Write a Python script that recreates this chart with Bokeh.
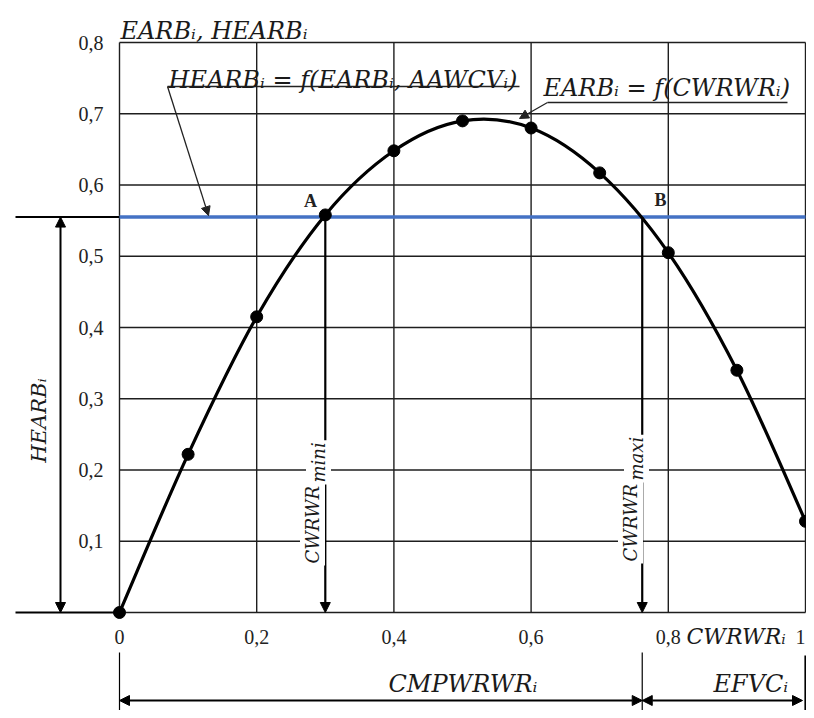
import math
from bokeh.plotting import figure
from bokeh.models import Arrow, NormalHead, Label, Range1d
from bokeh.core.properties import value
from bokeh.embed import file_html
from bokeh.resources import INLINE

# ---------------- data ----------------
cwrwr = [0.0, 0.1, 0.2, 0.3, 0.4, 0.5, 0.6, 0.7, 0.8, 0.9, 1.0]
earb = [0.0, 0.222, 0.415, 0.558, 0.648, 0.690, 0.680, 0.617, 0.505, 0.340, 0.128]
hearb_level = 0.555
cwrwr_min = 0.30
cwrwr_max = 0.762
cwrwr_end = 1.0
x_ticks = [0.0, 0.2, 0.4, 0.6, 0.8, 1.0]
x_tick_labels = ["0", "0,2", "0,4", "0,6", "0,8", "1"]
y_ticks = [0.1, 0.2, 0.3, 0.4, 0.5, 0.6, 0.7, 0.8]
y_tick_labels = ["0,1", "0,2", "0,3", "0,4", "0,5", "0,6", "0,7", "0,8"]
y_max = 0.8

# ---------------- layout helpers (screen placement of annotations) ----------------
W, H = 806, 710
X0PX, SX = 119, 686.0      # x = 0 at 119 px, 686 px per unit
Y0PX, SY = 612, 712.5      # y = 0 at 612 px, 712.5 px per unit


def X(px):
    return (px - X0PX) / SX


def Y(py):
    return (Y0PX - py) / SY


SERIF = "Liberation Serif"
MATH = "DejaVu Serif"
INK = "#1a1a1a"

p = figure(width=W, height=H,
           x_range=Range1d(X(0), X(W)), y_range=Range1d(Y(H), Y(0)),
           output_backend="svg", toolbar_location=None,
           x_axis_location=None, y_axis_location=None, min_border=0)
for g in p.grid:
    g.visible = False
p.outline_line_color = None
p.background_fill_color = "white"
p.border_fill_color = "white"

# ---------------- grid ----------------
GRID = "#1e1e1e"
p.segment(x0=x_ticks, y0=[0] * len(x_ticks), x1=x_ticks, y1=[y_max] * len(x_ticks),
          line_color=GRID, line_width=1.4)
h_levels = [0.0] + y_ticks
p.segment(x0=[0] * len(h_levels), y0=h_levels, x1=[cwrwr_end] * len(h_levels), y1=h_levels,
          line_color=GRID, line_width=1.4)

# tick labels
p.text(x=x_ticks[:-1], y=[0] * (len(x_ticks) - 1), text=x_tick_labels[:-1],
       text_font=value(SERIF), text_font_size="20px", text_align="center",
       text_baseline="middle", y_offset=24, text_color="#222")
p.text(x=x_ticks[-1:], y=[0], text=x_tick_labels[-1:],
       text_font=value(SERIF), text_font_size="20px", text_align="right",
       text_baseline="middle", y_offset=24, x_offset=0, text_color="#222")
p.text(x=[0] * len(y_ticks), y=y_ticks, text=y_tick_labels,
       text_font=value(SERIF), text_font_size="20px", text_align="right",
       text_baseline="middle", x_offset=-16, text_color="#222")

# ---------------- left helper lines ----------------
p.segment(x0=[X(15), X(15)], y0=[hearb_level, 0], x1=[0, 0], y1=[hearb_level, 0],
          line_color="black", line_width=2)

# ---------------- blue HEARB line ----------------
p.line(x=[0, cwrwr_end], y=[hearb_level, hearb_level], line_color="#4472C4", line_width=3.5)

# ---------------- smooth EARB curve (Catmull-Rom -> Bezier) ----------------
n = len(cwrwr)
bx0, by0, bx1, by1, cx0, cy0, cx1, cy1 = [], [], [], [], [], [], [], []
for i in range(n - 1):
    i0 = i - 1 if i > 0 else i
    i3 = i + 2 if i + 2 < n else i + 1
    bx0.append(cwrwr[i]); by0.append(earb[i])
    bx1.append(cwrwr[i + 1]); by1.append(earb[i + 1])
    cx0.append(cwrwr[i] + (cwrwr[i + 1] - cwrwr[i0]) / 6)
    cy0.append(earb[i] + (earb[i + 1] - earb[i0]) / 6)
    cx1.append(cwrwr[i + 1] - (cwrwr[i3] - cwrwr[i]) / 6)
    cy1.append(earb[i + 1] - (earb[i3] - earb[i]) / 6)
p.bezier(x0=bx0, y0=by0, x1=bx1, y1=by1, cx0=cx0, cy0=cy0, cx1=cx1, cy1=cy1,
         line_color="black", line_width=3.2)
p.scatter(x=cwrwr, y=earb, size=12, color="black")


# ---------------- arrows ----------------
def head(size=10, color="black"):
    return NormalHead(size=size, fill_color=color, line_color=color)


for xv in (cwrwr_min, cwrwr_max):
    p.add_layout(Arrow(x_start=xv, y_start=hearb_level, x_end=xv, y_end=0,
                       line_color="black", line_width=2.2, end=head()))

p.add_layout(Arrow(x_start=X(60), y_start=hearb_level, x_end=X(60), y_end=0,
                   line_color="black", line_width=2, start=head(), end=head()))

# bottom dimension lines
p.segment(x0=[0, cwrwr_max], y0=[Y(652)] * 2, x1=[0, cwrwr_max], y1=[Y(H + 5)] * 2,
          line_color="black", line_width=1.2)
p.segment(x0=[cwrwr_end], y0=[Y(655)], x1=[cwrwr_end], y1=[Y(H + 5)],
          line_color="black", line_width=2.2)
p.add_layout(Arrow(x_start=0, y_start=Y(700), x_end=cwrwr_max, y_end=Y(700),
                   line_color="black", line_width=2, start=head(), end=head()))
p.add_layout(Arrow(x_start=cwrwr_max, y_start=Y(700), x_end=X(802), y_end=Y(700),
                   line_color="black", line_width=2, start=head(), end=head()))

# formula leaders and underlines
p.segment(x0=[X(167), X(547)], y0=[Y(86), Y(102)], x1=[X(519), X(787)], y1=[Y(86), Y(102)],
          line_color="#222", line_width=1.3)
p.add_layout(Arrow(x_start=X(167), y_start=Y(86), x_end=X(208), y_end=hearb_level + 0.002,
                   line_color="#222", line_width=1.3, end=head(9, "#222")))
p.add_layout(Arrow(x_start=X(547), y_start=Y(102), x_end=X(519), y_end=Y(118),
                   line_color="#222", line_width=1.3, end=head(9, "#222")))


# ---------------- labels ----------------
def mlabel(x, y, text, size="24px", align="left", baseline="alphabetic", angle=0,
           bg=None, x_offset=0, y_offset=0):
    lab = Label(x=x, y=y, text=text, text_font=MATH, text_font_style="italic",
                text_font_size=size, text_align=align, text_baseline=baseline,
                angle=angle, text_color=INK, x_offset=x_offset, y_offset=y_offset)
    if bg:
        lab.background_fill_color = bg
        lab.padding = 2
    p.add_layout(lab)


mlabel(X(120), Y(30), "EARBᵢ, HEARBᵢ")
mlabel(X(168), Y(79), "HEARBᵢ = f(EARBᵢ, AAWCVᵢ)")
mlabel(X(543), Y(87), "EARBᵢ = f(CWRWRᵢ)")
mlabel(X(686), Y(636), "CWRWRᵢ", size="22px")
mlabel(X(388), Y(683), "CMPWRWRᵢ")
mlabel(X(713), Y(683), "EFVCᵢ")
mlabel(X(38), Y(420), "HEARBᵢ", size="21px", align="center", baseline="middle",
       angle=math.pi / 2)

# rotated CWRWR_min / CWRWR_max with real subscripts
for xb, yb, sub in ((312, 565, "mini"), (630, 563, "maxi")):
    mlabel(X(xb), Y(yb), sub, size="18px", angle=math.pi / 2, bg="white",
           x_offset=6, y_offset=81)
    mlabel(X(xb), Y(yb), "CWRWR", size="18px", angle=math.pi / 2, bg="white")

for txt, px_, py_ in (("A", 310, 200), ("B", 660, 199)):
    p.add_layout(Label(x=X(px_), y=Y(py_), text=txt, text_font=SERIF, text_font_style="bold",
                       text_font_size="18px", text_align="center", text_baseline="middle",
                       text_color="#222"))

open("out.html", "w").write(file_html(p, INLINE))
